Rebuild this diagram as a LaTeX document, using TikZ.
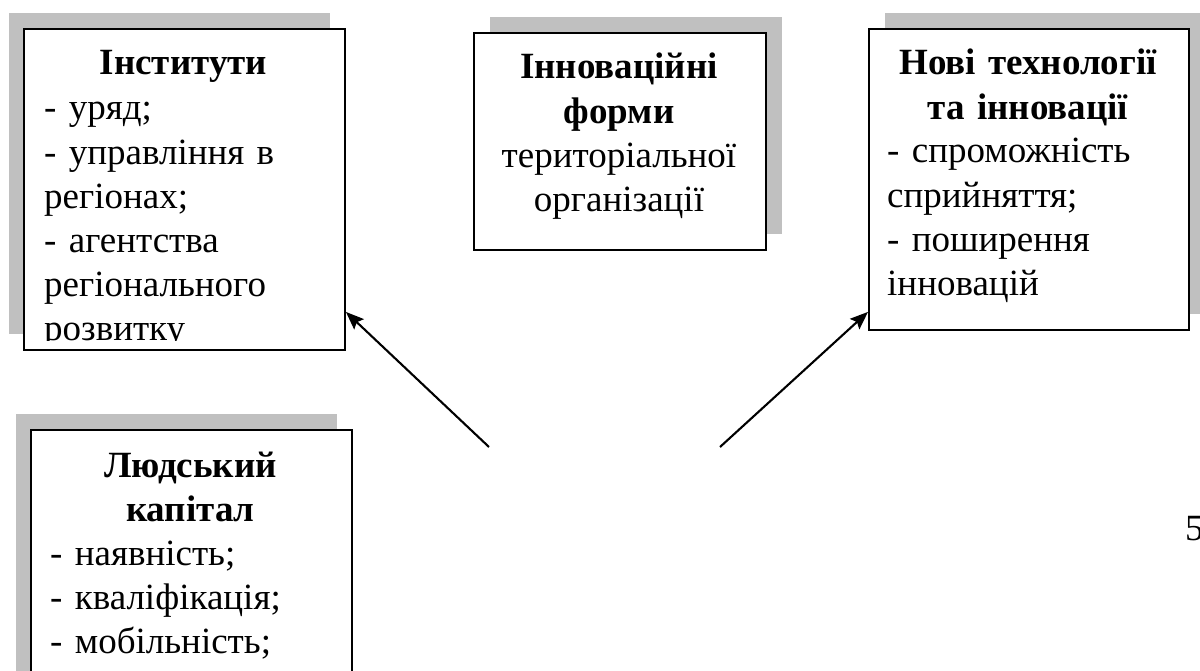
\documentclass[tikz,border=0pt]{standalone}
\usepackage{fontspec}
\setmainfont{Liberation Serif}
\usetikzlibrary{shadows,arrows.meta}
\definecolor{shadowgray}{RGB}{192,192,192}
\tikzset{
  frame/.style={draw=black, line width=1.9pt, fill=white, anchor=north west, inner sep=0pt},
  shadowTL/.style={drop shadow={shadow xshift=-15pt, shadow yshift=16pt, fill=shadowgray, opacity=1}},
  shadowTR/.style={drop shadow={shadow xshift=16pt, shadow yshift=16pt, fill=shadowgray, opacity=1}},
  basefont/.style={inner sep=0pt, font=\fontsize{37}{44.2}\selectfont},
  ttl/.style={basefont, anchor=base, align=center, font=\fontsize{37}{44.2}\selectfont\bfseries},
  ctr/.style={basefont, anchor=base, align=center},
  body/.style={basefont, anchor=base west, align=left},
  arr/.style={line width=2.1pt, -{Stealth[length=18pt, width=14pt, inset=3pt]}}
}
\begin{document}
\begin{tikzpicture}[x=1pt, y=-1pt]
\useasboundingbox (0,0) rectangle (1200,671);
% boxes
\node[frame, shadowTL, minimum width=321pt, minimum height=321pt] (inst) at (23,28) {};
\node[frame, shadowTR, minimum width=292pt, minimum height=217pt] (form) at (473,32) {};
\node[frame, shadowTR, minimum width=320pt, minimum height=301pt] (tech) at (868,28) {};
\node[frame, shadowTL, minimum width=321pt, minimum height=320pt] (hum) at (30,429) {};
% box 1
\node[ttl, text width=281pt] (instH) at (183.5,74.5) {Інститути};
\begin{scope}
\clip (inst.north west) rectangle ([yshift=10pt]inst.south east);
\node[body, text width=281pt] (instB) at (44,120) {- уряд;\\- управління в\\регіонах;\\- агентства\\регіонального\\розвитку};
\end{scope}
% box 2
\node[ttl, text width=252pt] (formH) at (619,79) {Інноваційні\\форми};
\node[ctr, text width=252pt] (formB) at (619,167.5) {територіальної\\організації};
% box 3
\node[ttl, text width=280pt] (techH) at (1028,75) {Нові технології\\та інновації};
\node[body, text width=280pt] (techB) at (887,163) {- спроможність\\сприйняття;\\- поширення\\інновацій};
% box 4
\node[ttl, text width=281pt] (humH) at (190.5,477) {Людський\\капітал};
\node[body, text width=281pt] (humB) at (50,565) {- наявність;\\- кваліфікація;\\- мобільність;};
% page number
\node[body] (page) at (1185,540) {5};
% arrows
\coordinate (a1) at (489,447);
\coordinate (a2) at (720,447);
\draw[arr] (a1) -- ([yshift=39pt]inst.south east);
\draw[arr] (a2) -- ([yshift=19pt]tech.south west);
\end{tikzpicture}
\end{document}
